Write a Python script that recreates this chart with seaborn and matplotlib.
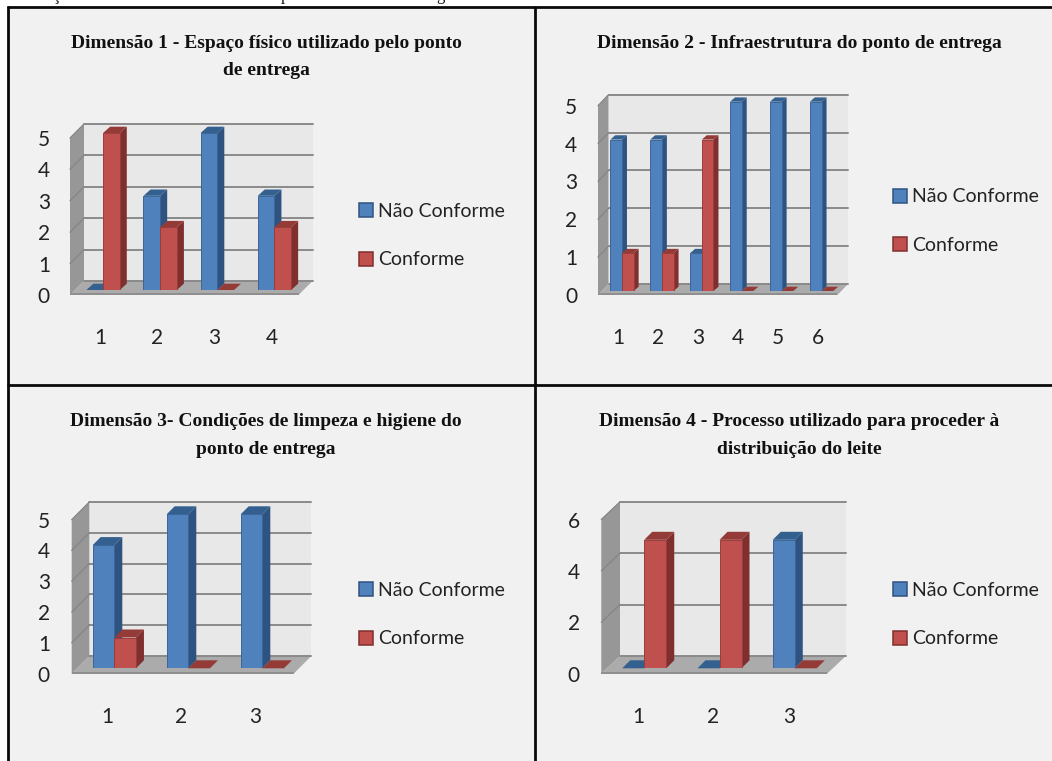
import matplotlib
matplotlib.use("Agg")
import matplotlib.pyplot as plt
import pandas as pd
import seaborn as sns
from matplotlib.lines import Line2D
from matplotlib.patches import Patch, Polygon, Rectangle
from matplotlib.transforms import Affine2D, IdentityTransform

W, H = 1052, 761
SERIES = ["Não Conforme", "Conforme"]

TITLE_1 = "Dimensão 1 - Espaço físico utilizado pelo ponto\nde entrega"
CATEGORIES_1 = ["1", "2", "3", "4"]
NAO_CONFORME_1 = [0, 3, 5, 3]
CONFORME_1 = [5, 2, 0, 2]
TICKS_1 = [0, 1, 2, 3, 4, 5]

TITLE_2 = "Dimensão 2 - Infraestrutura do ponto de entrega"
CATEGORIES_2 = ["1", "2", "3", "4", "5", "6"]
NAO_CONFORME_2 = [4, 4, 1, 5, 5, 5]
CONFORME_2 = [1, 1, 4, 0, 0, 0]
TICKS_2 = [0, 1, 2, 3, 4, 5]

TITLE_3 = "Dimensão 3- Condições de limpeza e higiene do\nponto de entrega"
CATEGORIES_3 = ["1", "2", "3"]
NAO_CONFORME_3 = [4, 5, 5]
CONFORME_3 = [1, 0, 0]
TICKS_3 = [0, 1, 2, 3, 4, 5]

TITLE_4 = "Dimensão 4 - Processo utilizado para proceder à\ndistribuição do leite"
CATEGORIES_4 = ["1", "2", "3"]
NAO_CONFORME_4 = [0, 0, 5]
CONFORME_4 = [5, 5, 0]
TICKS_4 = [0, 2, 4, 6]

BLUE = ("#4F81BD", "#2F5380", "#33608F", "#3A659A")
RED = ("#C0504D", "#7F2F2D", "#943B38", "#9A3D3A")
PANEL_BG = "#F1F1F1"
WALL = "#E8E8E8"
SIDE_WALL = "#979797"
FLOOR = "#ABABAB"
SLAB = "#8F8F8F"
GRID = "#8A8A8A"
TEXT_FONT = ["Lato", "DejaVu Sans"]

sns.set_theme(style="white")
plt.rcParams["font.family"] = TEXT_FONT

fig = plt.figure(figsize=(W / 100, H / 100), dpi=100, facecolor="white")


def yfrac(y):
    return 1 - y / H


def poly(ax, pts, color, z):
    ax.add_patch(Polygon(pts, closed=True, facecolor=color, edgecolor="none",
                         transform=IdentityTransform(), clip_on=False, zorder=z))


def draw_panel(title, title_xy, cats, nao, conf, ticks, ymax, box, front, back,
               depth, xlabel_y, xlabel_dx, ylabel_right, legend_x, legend_rows):
    left, right, base, top = box
    ax = fig.add_axes([left / W, yfrac(base), (right - left) / W, (base - top) / H])
    ax.patch.set_alpha(0)

    table = pd.DataFrame({
        "categoria": cats * 2,
        "valor": nao + conf,
        "serie": [SERIES[0]] * len(cats) + [SERIES[1]] * len(cats),
    })
    sns.barplot(data=table, x="categoria", y="valor", hue="serie", order=cats,
                hue_order=SERIES, palette=[BLUE[0], RED[0]], saturation=1,
                width=0.585, gap=0, legend=False, ax=ax)
    ax.set_xlim(-0.5, len(cats) - 0.5)
    ax.set_ylim(0, ymax)
    ax.set_xlabel("")
    ax.set_ylabel("")
    ax.set_yticks(ticks)
    sns.despine(ax=ax, left=True, bottom=True)
    fig.canvas.draw()
    bars = sorted(ax.patches, key=lambda p: p.get_x())

    def disp(x, y, dx=0, dy=0):
        px, py = ax.transData.transform((x, y))
        return (px + dx, py - dy)

    fx, fy = front
    bx, by = back
    x0, x1 = ax.get_xlim()

    # Walls and floor of the box behind the bars
    poly(ax, [disp(x0, 0, bx, by), disp(x1, 0, bx, by), disp(x1, ymax, bx, by),
              disp(x0, ymax, bx, by)], WALL, 0.5)
    poly(ax, [disp(x0, 0, fx, fy), disp(x0, 0, bx, by), disp(x0, ymax, bx, by),
              disp(x0, ymax, fx, fy)], SIDE_WALL, 0.6)
    poly(ax, [disp(x0, 0, fx, fy), disp(x1, 0, fx, fy), disp(x1, 0, bx, by),
              disp(x0, 0, bx, by)], FLOOR, 0.7)
    poly(ax, [disp(x0, 0, fx, fy), disp(x1, 0, fx, fy), disp(x1, 0, fx, fy - 1.8),
              disp(x0, 0, fx, fy - 1.8)], SLAB, 0.75)
    for t in ticks:
        (ax1, ay1), (ax2, ay2) = disp(x0, t, bx, by), disp(x1, t, bx, by)
        ax.add_line(Line2D([ax1, ax2], [ay1, ay2], color=GRID, lw=1.4,
                           transform=IdentityTransform(), clip_on=False, zorder=0.8))
        if t > 0:
            sx, sy = disp(x0, t, fx, fy)
            ax.add_line(Line2D([sx, ax1], [sy, ay1], color="#858585", lw=0.9,
                               transform=IdentityTransform(), clip_on=False, zorder=0.8))

    # Extrude every bar: right face, top face, front face, painted left to right
    ddx, ddy = depth
    for i, bar in enumerate(bars):
        shades = BLUE if i % 2 == 0 else RED
        bx0, bw, bh = bar.get_x(), bar.get_width(), bar.get_height()
        z = 2 + i * 0.1
        bar.set_edgecolor(shades[3])
        bar.set_linewidth(0.7)
        bar.set_zorder(z + 0.02)
        if bh > 0:
            poly(ax, [disp(bx0 + bw, 0), disp(bx0 + bw, 0, ddx, -ddy),
                      disp(bx0 + bw, bh, ddx, -ddy), disp(bx0 + bw, bh)], shades[1], z)
        poly(ax, [disp(bx0, bh), disp(bx0 + bw, bh), disp(bx0 + bw, bh, ddx, -ddy),
                  disp(bx0, bh, ddx, -ddy)], shades[2], z + 0.01)

    # Tick labels follow the front edge of the box
    ax.tick_params(axis="both", length=0, labelsize=15, colors="#222222")
    ax.tick_params(axis="y", pad=(left - ylabel_right) * 0.72)
    ax.tick_params(axis="x", pad=(xlabel_y - 8 - base) * 0.72)
    for label in ax.get_yticklabels():
        label.set_transform(label.get_transform() + Affine2D().translate(0, -fy))
    for label in ax.get_xticklabels():
        label.set_transform(label.get_transform() + Affine2D().translate(xlabel_dx, 0))

    fig.text(title_xy[0] / W, yfrac(title_xy[1]), title, ha="center", va="center",
             family="Liberation Serif", weight="bold", size=14, color="#111111",
             linespacing=1.78)

    # Legend entries, each row placed on its own anchor
    handles = [Patch(facecolor=BLUE[0], edgecolor=BLUE[1], linewidth=1.1),
               Patch(facecolor=RED[0], edgecolor=RED[1], linewidth=1.1)]
    for row, handle, name in zip(legend_rows, handles, SERIES):
        leg = fig.legend([handle], [name], loc="center left", frameon=False,
                         bbox_to_anchor=(legend_x / W, yfrac(row)), borderpad=0,
                         borderaxespad=0, handlelength=0.72, handleheight=0.72,
                         handletextpad=0.24, fontsize=14)
        leg.get_texts()[0].set_color("#222222")


# Page background and the black ruling between panels
fig.add_artist(Rectangle((7 / W, 0), 1 - 7 / W, yfrac(6), transform=fig.transFigure,
                         facecolor=PANEL_BG, edgecolor="none", zorder=-5))
for xs, ys in [((7, 1052), (7, 7)), ((7.5, 7.5), (6, 761)), ((535, 535), (6, 761)),
               ((7, 1052), (384.5, 384.5))]:
    fig.add_artist(Line2D([x / W for x in xs], [yfrac(y) for y in ys],
                          color="#0A0A0A", lw=2.0, zorder=-4, solid_capstyle="butt"))

# Descenders of the caption line running off the top of the page
for x, glyph in [(56, "ç"), (285, "p"), (440, "g")]:
    fig.text(x / W, yfrac(0.5), glyph, family="Liberation Serif", size=12,
             ha="center", va="baseline", color="#111111")

draw_panel(TITLE_1, (266, 57), CATEGORIES_1, NAO_CONFORME_1, CONFORME_1, TICKS_1, 5,
           (74.5, 303, 290, 133), (-4.5, 5), (9.5, -9), (7, 6.3), 336, -3, 50,
           359, (211.5, 260))
draw_panel(TITLE_2, (799, 43), CATEGORIES_2, NAO_CONFORME_2, CONFORME_2, TICKS_2, 5,
           (602, 841.5, 291, 101.7), (-4, 4), (6.5, -7), (5, 4.3), 336, -4, 577,
           893, (197, 245.7))
draw_panel(TITLE_3, (266, 435.5), CATEGORIES_3, NAO_CONFORME_3, CONFORME_3, TICKS_3, 5,
           (77.3, 299.3, 668.3, 514.3), (-5.6, 5.4), (12, -12.3), (8, 8), 715, -7, 50,
           359, (590, 639))
draw_panel(TITLE_4, (799, 435.5), CATEGORIES_4, NAO_CONFORME_4, CONFORME_4, TICKS_4, 6,
           (606.6, 832.4, 668.3, 514.1), (-5.3, 5.4), (13.4, -12.3), (8, 8), 715, -6, 580,
           893, (590, 639))

fig.savefig("out.png", dpi=100, facecolor="white")
